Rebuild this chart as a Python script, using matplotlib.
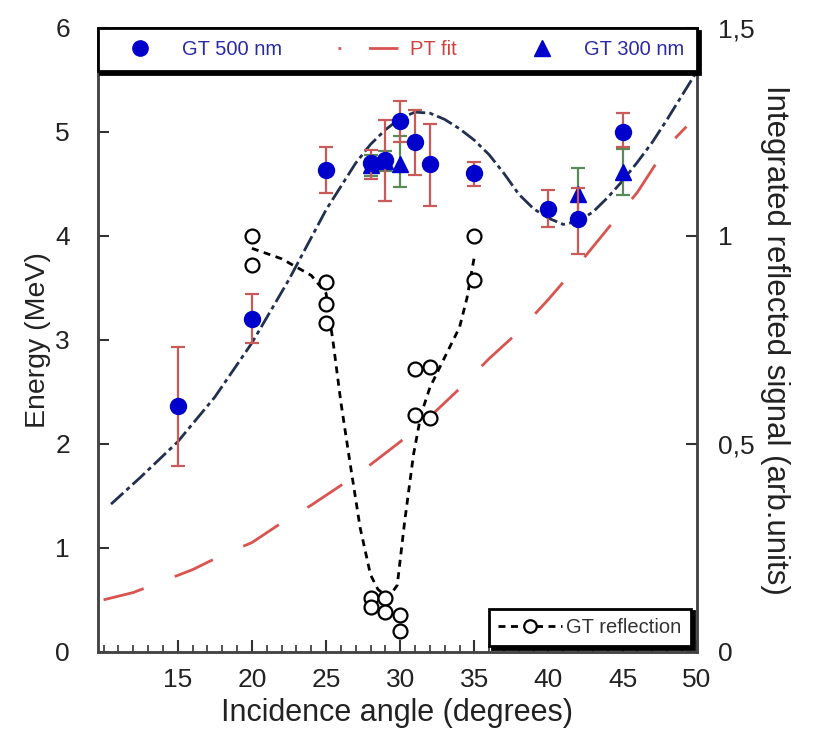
import numpy as np
import matplotlib.pyplot as plt
from matplotlib.lines import Line2D
from matplotlib.ticker import MultipleLocator, FuncFormatter

plt.rcParams['font.family'] = ['Liberation Sans', 'DejaVu Sans']

# GT 500 nm (energy, MeV) with asymmetric error bars
x500 = [15, 20, 25, 28, 29, 30, 31, 32, 35, 40, 42, 45]
y500 = [2.36, 3.20, 4.63, 4.70, 4.73, 5.10, 4.90, 4.69, 4.60, 4.26, 4.16, 5.00]
lo500 = [0.57, 0.23, 0.22, 0.15, 0.39, 0.20, 0.31, 0.40, 0.12, 0.17, 0.33, 0.15]
hi500 = [0.57, 0.24, 0.22, 0.13, 0.38, 0.20, 0.31, 0.39, 0.11, 0.18, 0.30, 0.18]

# GT 300 nm
x300 = [28, 29, 30, 42, 45]
y300 = [4.68, 4.72, 4.69, 4.40, 4.61]
lo300 = [0.10, 0.10, 0.22, 0.25, 0.22]
hi300 = [0.10, 0.10, 0.27, 0.25, 0.23]

# fit through GT data (dash-dot curve)
xfit = [10.5, 12.5, 15, 17.5, 20, 22.5, 25, 27, 28, 29, 30, 31, 32, 33, 34, 35,
        36, 37, 38, 39, 40, 41, 42, 43, 44, 45, 46, 47, 48, 49, 50]
yfit = [1.42, 1.68, 2.02, 2.45, 2.97, 3.58, 4.25, 4.70, 4.88, 5.02, 5.13, 5.19,
        5.18, 5.12, 5.03, 4.92, 4.78, 4.60, 4.40, 4.26, 4.17, 4.11, 4.14, 4.23,
        4.37, 4.53, 4.71, 4.90, 5.12, 5.35, 5.58]

# PT fit (red long dashes)
xpt = [10, 12, 14, 16, 18, 20, 22, 24, 26, 28, 30, 32, 34, 36, 38, 40, 42, 44,
       46, 48, 49.3]
ypt = [0.50, 0.57, 0.68, 0.79, 0.93, 1.05, 1.24, 1.41, 1.60, 1.80, 2.02, 2.26,
       2.53, 2.82, 3.08, 3.39, 3.72, 4.07, 4.42, 4.86, 5.05]

# GT reflection (right axis, arb. units)
xref = [20, 20, 25, 25, 25, 28, 28, 29, 29, 30, 30, 31, 31, 32, 32, 35, 35]
yref = [1.00, 0.93, 0.89, 0.835, 0.79, 0.13, 0.108, 0.13, 0.095, 0.088, 0.05,
        0.68, 0.57, 0.685, 0.563, 1.00, 0.895]
xrefl = [20, 22, 24, 25, 25.5, 26, 26.6, 27.3, 28, 28.5, 29.2, 29.8, 30.3, 30.9,
         31.4, 32, 33, 34, 34.5, 35]
yrefl = [0.97, 0.945, 0.905, 0.862, 0.738, 0.60, 0.458, 0.298, 0.185, 0.15,
         0.13, 0.16, 0.313, 0.475, 0.57, 0.635, 0.708, 0.78, 0.85, 0.95]

blue = '#0000cc'
red = '#d9534f'

fig = plt.figure(figsize=(8.14, 7.34), dpi=100)
ax = fig.add_axes([0.120, 0.112, 0.736, 0.850])
ax2 = ax.twinx()

ax.plot(xpt, ypt, color=red, lw=2, dashes=(15, 12), zorder=2)
ax.plot(xfit, yfit, color='#22304f', lw=2, dashes=(6, 1.5, 1.5, 1.5), zorder=3)
ax.errorbar(x300, y300, yerr=[lo300, hi300], fmt='^', color=blue, ms=12,
            ecolor='#5a8a5a', elinewidth=1.6, capsize=5, capthick=1.6, zorder=4)
ax.errorbar(x500, y500, yerr=[lo500, hi500], fmt='o', color=blue, ms=11.5,
            ecolor='#c85a5a', elinewidth=1.6, capsize=5, capthick=1.6, zorder=5)

ax2.plot(xrefl, yrefl, color='black', lw=2, dashes=(2.5, 2))
ax2.plot(xref, yref, 'o', ls='none', mfc='white', mec='black', ms=10, mew=1.6)

ax.set_xlim(9.6, 50)
ax.set_ylim(0, 6)
ax2.set_ylim(0, 1.5)
ax.set_xticks([15, 20, 25, 30, 35, 40, 45, 50])
ax.xaxis.set_minor_locator(MultipleLocator(1))
ax.set_yticks([0, 1, 2, 3, 4, 5, 6])
ax2.set_yticks([0, 0.5, 1, 1.5])
ax2.yaxis.set_major_formatter(FuncFormatter(lambda v, p: ('%g' % v).replace('.', ',')))

for a in (ax, ax2):
    for s in a.spines.values():
        s.set_color('#444444')
        s.set_linewidth(1.8)
ax.tick_params(axis='x', which='major', direction='in', length=9, width=1.5,
               pad=12, labelsize=19, colors='#333333', labelcolor='#222222')
ax.tick_params(axis='x', which='minor', direction='in', length=5, width=1.2,
               colors='#333333')
ax.tick_params(axis='y', direction='in', length=8, width=1.5, pad=20,
               labelsize=19, colors='#333333', labelcolor='#222222')
ax2.tick_params(axis='y', direction='in', length=8, width=1.5, pad=15,
                labelsize=19, colors='#333333', labelcolor='#222222')

ax.set_xlabel('Incidence angle (degrees)', fontsize=22, color='#222222', labelpad=4)
ax.set_ylabel('Energy (MeV)', fontsize=20.5, color='#222222', labelpad=3)
ax2.set_ylabel('Integrated reflected signal (arb.units)', fontsize=22.5,
               color='#222222', rotation=270, labelpad=26)

h500 = Line2D([], [], marker='o', color=blue, ls='none', ms=11)
hpt = Line2D([], [], color=red, lw=2, dashes=(1, 10, 18, 30))
h300 = Line2D([], [], marker='^', color=blue, ls='none', ms=11)
leg1 = ax2.legend([h500, hpt, h300], ['GT 500 nm', 'PT fit', 'GT 300 nm'],
                  loc='upper left', bbox_to_anchor=(0, 0, 1, 1), mode='expand',
                  ncol=3, borderaxespad=0, fontsize=14.5, fancybox=False,
                  shadow={'color': 'black', 'alpha': 1}, edgecolor='black',
                  framealpha=1, borderpad=0.6, handlelength=3.0,
                  handletextpad=0.6)
leg1.get_frame().set_linewidth(2)
for t, c in zip(leg1.get_texts(), ['#2a2aa8', '#d04040', '#2a2aa8']):
    t.set_color(c)
ax2.add_artist(leg1)

href = Line2D([], [], color='black', lw=2, dashes=(2.5, 2), marker='o',
              mfc='white', mec='black', ms=9, mew=1.6)
leg2 = ax2.legend([href], ['GT reflection'], loc='lower right', fontsize=14.5,
                  fancybox=False, shadow={'color': 'black', 'alpha': 1},
                  edgecolor='black', framealpha=1, borderaxespad=0.3,
                  handlelength=3.2, handletextpad=0.2, borderpad=0.45,
                  labelcolor='#333333')
leg2.get_frame().set_linewidth(2)

fig.savefig('out.png', dpi=100)
